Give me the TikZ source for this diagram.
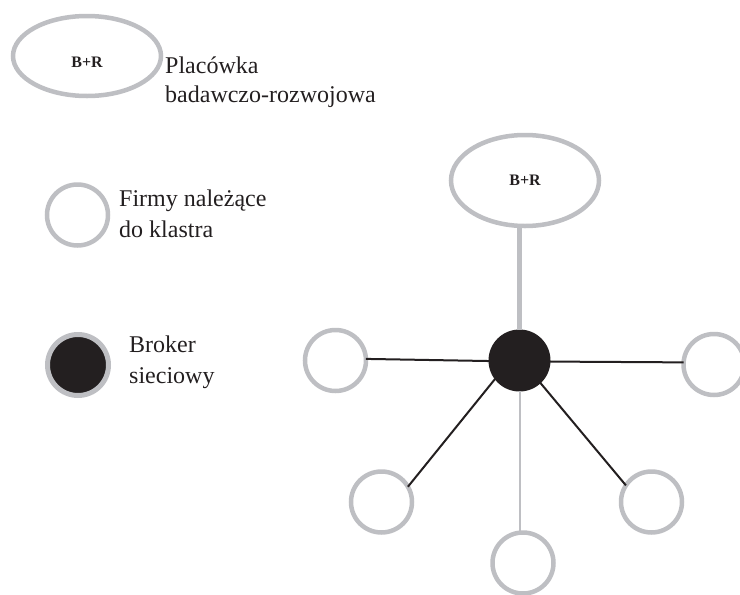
\documentclass[tikz,border=0pt]{standalone}
\usepackage{fontspec}
\setmainfont{Liberation Serif}
\usetikzlibrary{shapes.geometric}
\definecolor{ringgray}{RGB}{190,191,195}
\definecolor{inkblack}{RGB}{35,31,32}
\tikzset{
  firm/.style={circle, draw=ringgray, line width=4.5pt, fill=white, minimum size=61pt, inner sep=0pt, outer sep=0pt},
  brokerdot/.style={circle, draw=inkblack, fill=inkblack, line width=1pt, minimum size=61pt, inner sep=0pt, outer sep=0pt},
  legbroker/.style={circle, draw=ringgray, fill=inkblack, line width=5pt, minimum size=61pt, inner sep=0pt, outer sep=0pt},
  lab/.style={ellipse, draw=ringgray, line width=4.5pt, fill=white, inner sep=0pt, outer sep=0pt},
  brtext/.style={font=\fontsize{16}{18}\selectfont\bfseries, text=inkblack, inner sep=0pt},
  lbl/.style={font=\fontsize{24}{29}\selectfont, text=inkblack, anchor=base west, inner sep=0pt},
  blackline/.style={draw=inkblack, line width=2pt},
  thinGray/.style={draw=ringgray, line width=2pt},
  thickGray/.style={draw=ringgray, line width=5.5pt}
}
\begin{document}
\begin{tikzpicture}[x=1pt,y=-1pt]
\useasboundingbox (0,0) rectangle (740,595);
% legend
\node[lab, minimum width=148pt, minimum height=80pt] (legell) at (87,56) {};
\node[brtext] (legbr) at (87,62) {B+R};
\node[lbl] (t1a) at (165,73) {Placówka};
\node[lbl] (t1b) at (165,102) {badawczo-rozwojowa};
\node[firm] (legfirm) at (77.5,215) {};
\node[lbl] (t2a) at (119,206) {Firmy należące};
\node[lbl] (t2b) at (119,237) {do klastra};
\node[legbroker] (legbrk) at (78,365) {};
\node[lbl] (t3a) at (129,352) {Broker};
\node[lbl] (t3b) at (129,383) {sieciowy};
% diagram
\node[lab, minimum width=148pt, minimum height=91pt, brtext] (ell) at (525,180.5) {B+R};
\node[brokerdot] (brk) at (519.5,360.5) {};
\node[firm] (lc) at (335.5,360.5) {};
\node[firm] (rc) at (714,364.5) {};
\node[firm] (bl) at (381.5,502) {};
\node[firm] (br) at (651.5,502) {};
\node[firm] (bm) at (523,563) {};
% connectors
\draw[thickGray] (brk.north) -- (brk.north |- ell.south);
\draw[thinGray] (brk.south) -- (brk.south |- bm.north);
\draw[blackline] (brk.181) -- (lc.3);
\draw[blackline] (brk.358) -- (rc.176);
\draw[blackline] (brk.217) -- (bl.30);
\draw[blackline] (brk.313) -- (br.147);
\end{tikzpicture}
\end{document}
